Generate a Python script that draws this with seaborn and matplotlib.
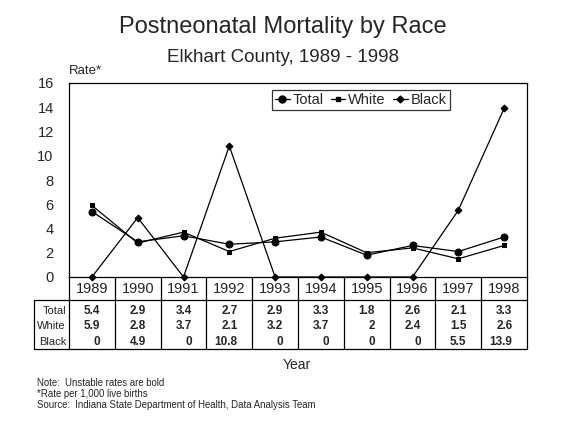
import matplotlib
matplotlib.use("Agg")
import matplotlib.pyplot as plt
import seaborn as sns
import pandas as pd
import numpy as np
from matplotlib.lines import Line2D

years = ["1989", "1990", "1991", "1992", "1993", "1994", "1995", "1996", "1997", "1998"]
total = [5.4, 2.9, 3.4, 2.7, 2.9, 3.3, 1.8, 2.6, 2.1, 3.3]
white = [5.9, 2.8, 3.7, 2.1, 3.2, 3.7, 2.0, 2.4, 1.5, 2.6]
black = [0, 4.9, 0, 10.8, 0, 0, 0, 0, 5.5, 13.9]
total_lbl = ["5.4", "2.9", "3.4", "2.7", "2.9", "3.3", "1.8", "2.6", "2.1", "3.3"]
white_lbl = ["5.9", "2.8", "3.7", "2.1", "3.2", "3.7", "2", "2.4", "1.5", "2.6"]
black_lbl = ["0", "4.9", "0", "10.8", "0", "0", "0", "0", "5.5", "13.9"]
yticks = [0, 2, 4, 6, 8, 10, 12, 14, 16]

sns.set_style("white")
plt.rcParams['font.family'] = ['Liberation Sans', 'DejaVu Sans']

fig = plt.figure(figsize=(5.66, 4.25), dpi=100)
ax = fig.add_axes([69/566, 1-277/425, (527-69)/566, (277-83)/425])

pos = list(range(len(years)))
series = [("Total", total, "o", 5), ("White", white, "s", 3.5), ("Black", black, "D", 3.5)]
for name, vals, mk, ms in series:
    df = pd.DataFrame({"x": pos, "y": vals})
    sns.lineplot(data=df, x="x", y="y", ax=ax, color="black", lw=0.9,
                 marker=mk, markersize=ms, markeredgecolor="black",
                 markerfacecolor="black", clip_on=False, label=name, zorder=3)

ax.set_xlim(-0.5, len(years) - 0.5)
ax.set_ylim(0, 16)
ax.set_yticks(yticks)
ax.set_yticklabels([str(t) for t in yticks], fontsize=10.5)
ax.set_xticks([])
ax.set_xlabel("")
ax.set_ylabel("")
ax.tick_params(axis="y", length=0, pad=11)
for s in ax.spines.values():
    s.set_color("black")
    s.set_linewidth(0.9)

handles = [Line2D([0], [0], color="black", lw=0.9, marker=m, markersize=s)
           for _, _, m, s in series]
leg = ax.legend(handles, ["Total", "White", "Black"], ncol=3, loc="upper left",
                bbox_to_anchor=((272-69)/458, (277-90)/194), frameon=True, fancybox=False,
                edgecolor="black", fontsize=10.5, handlelength=1.0, handletextpad=0.2,
                columnspacing=0.5, borderpad=0.2, borderaxespad=0)
leg.get_frame().set_linewidth(0.9)

# data table below the axes
trans = ax.get_xaxis_transform()
ah = 194.0
def yf(py):
    return (277 - py) / ah

lw = 0.9
x_left = -0.5 - (69 - 34) / 45.8
ax.plot([-0.5, 9.5], [yf(300), yf(300)], transform=trans, color="black", lw=lw, clip_on=False)
ax.plot([x_left, -0.5], [yf(300), yf(300)], transform=trans, color="black", lw=lw, clip_on=False)
ax.plot([x_left, 9.5], [yf(349), yf(349)], transform=trans, color="black", lw=lw, clip_on=False)
ax.plot([x_left, x_left], [yf(300), yf(349)], transform=trans, color="black", lw=lw, clip_on=False)
for i in range(len(years) + 1):
    ax.plot([i - 0.5, i - 0.5], [0, yf(349)], transform=trans, color="black", lw=lw, clip_on=False)

for i, yr in enumerate(years):
    ax.text(i, yf(289), yr, transform=trans, ha="center", va="center", fontsize=10.5)

rows = [("Total", total_lbl, 311), ("White", white_lbl, 326), ("Black", black_lbl, 342)]
for name, labels, py in rows:
    ax.text(-0.5 - 3/45.8, yf(py), name, transform=trans, ha="right", va="center", fontsize=8)
    for i, lab in enumerate(labels):
        ax.text(i + 0.18, yf(py), lab, transform=trans, ha="right", va="center",
                fontsize=8.5, fontweight="bold")

fig.text(0.5, 1 - 27/425, "Postneonatal Mortality by Race", ha="center", va="center", fontsize=17)
fig.text(0.5, 1 - 57/425, "Elkhart County, 1989 - 1998", ha="center", va="center", fontsize=13.5)
fig.text(69/566, 1 - 71/425, "Rate*", ha="left", va="center", fontsize=9.5)
fig.text(297/566, 1 - 365/425, "Year", ha="center", va="center", fontsize=10)
notes = ["Note:  Unstable rates are bold", "*Rate per 1,000 live births",
         "Source:  Indiana State Department of Health, Data Analysis Team"]
for k, n in enumerate(notes):
    fig.text(37/566, 1 - (383 + 11*k)/425, n, ha="left", va="center", fontsize=6.9)

fig.savefig("out.png", dpi=100)
